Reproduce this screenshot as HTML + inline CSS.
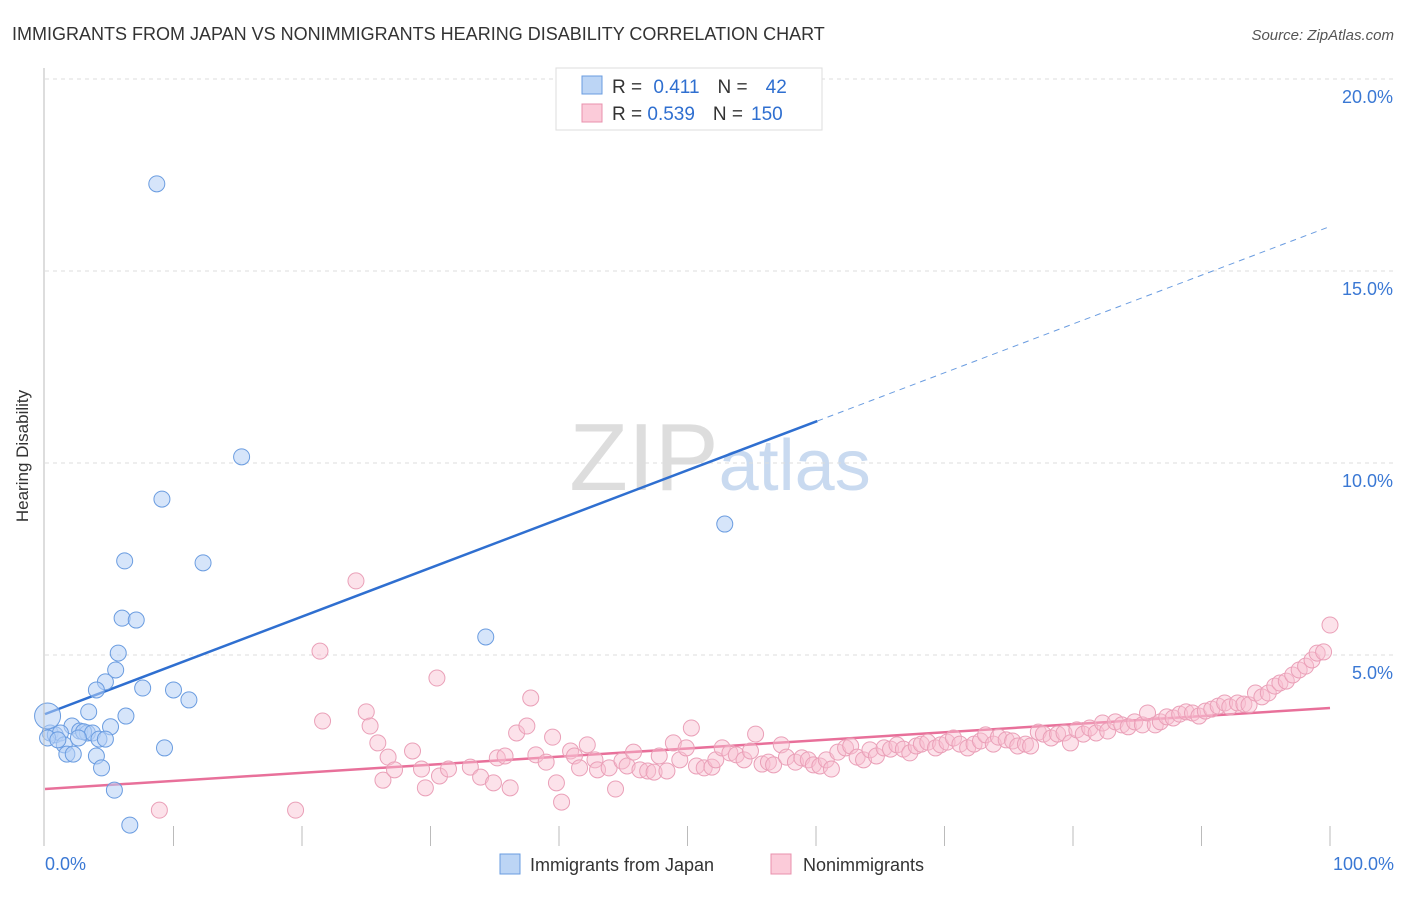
<!DOCTYPE html>
<html><head><meta charset="utf-8"><style>
body{margin:0;background:#fff;font-family:"Liberation Sans",sans-serif;}
svg text{font-family:"Liberation Sans",sans-serif;}
</style></head><body>
<svg id="chart" width="1406" height="892">
<text x="12" y="40" font-size="18" fill="#333">IMMIGRANTS FROM JAPAN VS NONIMMIGRANTS HEARING DISABILITY CORRELATION CHART</text>
<text x="1394" y="40" font-size="15" fill="#555" font-style="italic" text-anchor="end">Source: ZipAtlas.com</text>
<text x="28" y="456" font-size="17" fill="#333" transform="rotate(-90 28 456)" text-anchor="middle">Hearing Disability</text>
<text x="720" y="490" font-size="96" fill="#ddd" text-anchor="middle" font-family="Liberation Serif">ZIP<tspan fill="#c9daf0" font-family="Liberation Sans" font-size="72">atlas</tspan></text>
<g id="grid"></g><g id="lines"></g><g id="pts"></g>
<line x1="44" y1="68" x2="44" y2="846" stroke="#bbb"/>
<text x="45" y="870" font-size="18" fill="#3a78d4">0.0%</text>
<text x="1394" y="870" font-size="18" fill="#3a78d4" text-anchor="end">100.0%</text>
<g>
<rect x="556" y="68" width="266" height="62" fill="#fff" stroke="#ddd"/>
<rect x="582" y="76" width="20" height="18" fill="#bcd5f5" stroke="#6a9ce0"/>
<rect x="582" y="104" width="20" height="18" fill="#fbcbd9" stroke="#e890ad"/>
<text x="612" y="93" font-size="19" fill="#333">R = <tspan fill="#2f6fd0" dx="6">0.411</tspan><tspan dx="18">N =</tspan><tspan fill="#2f6fd0" dx="18">42</tspan></text>
<text x="612" y="120" font-size="19" fill="#333">R = <tspan fill="#2f6fd0">0.539</tspan><tspan dx="18">N =</tspan><tspan fill="#2f6fd0" dx="8">150</tspan></text>
</g>
<g>
<rect x="500" y="854" width="20" height="20" fill="#bcd5f5" stroke="#6a9ce0"/>
<text x="530" y="871" font-size="18" fill="#333">Immigrants from Japan</text>
<rect x="771" y="854" width="20" height="20" fill="#fbcbd9" stroke="#e890ad"/>
<text x="803" y="871" font-size="18" fill="#333">Nonimmigrants</text>
</g>
</svg>
<script>
const yTicks=[5,10,15,20];
const xTicks=[10,20,30,40,50,60,70,80,90,100];
const blueX=[8.7,15.3,9.1,6.2,12.3,6.0,7.1,34.3,52.9,5.7,5.5,4.7,4.0,7.6,10.0,11.2,3.4,6.3,1.9,5.1,2.1,2.7,3.3,3.0,3.7,4.2,4.7,0.4,0.8,1.2,0.2,1.5,1.7,2.2,4.0,9.3,4.4,5.4,6.6,2.6,1.0];
const blueY=[17.27,10.16,9.06,7.45,7.40,5.96,5.91,5.47,8.41,5.05,4.61,4.30,4.09,4.14,4.09,3.83,3.52,3.41,3.36,3.13,3.15,3.02,2.97,3.0,2.97,2.81,2.81,2.97,2.92,2.97,2.84,2.66,2.42,2.42,2.37,2.58,2.06,1.48,0.57,2.84,2.79];
const pinkX=[8.9,19.5,21.4,21.6,24.2,25.0,25.3,25.9,26.3,26.7,27.2,28.6,29.3,29.6,30.5,30.7,31.4,33.1,33.9,34.9,35.2,35.8,36.2,36.7,37.5,37.8,38.2,39.0,39.5,39.8,40.2,40.9,41.2,41.6,42.2,42.8,43.0,43.9,44.4,44.9,45.3,45.8,46.3,46.9,47.4,47.8,48.4,48.9,49.4,49.9,50.3,50.7,51.3,51.9,52.2,52.7,53.3,53.8,54.4,54.9,55.3,55.8,56.3,56.7,57.3,57.7,58.4,58.9,59.4,59.8,60.3,60.8,61.2,61.7,62.3,62.7,63.2,63.7,64.2,64.7,65.3,65.8,66.3,66.8,67.3,67.8,68.2,68.7,69.3,69.7,70.2,70.7,71.2,71.8,72.3,72.8,73.2,73.8,74.2,74.8,75.3,75.7,76.3,76.7,77.3,77.7,78.3,78.8,79.3,79.8,80.3,80.8,81.3,81.8,82.3,82.7,83.3,83.8,84.3,84.8,85.4,85.8,86.4,86.8,87.3,87.8,88.3,88.8,89.3,89.8,90.3,90.8,91.3,91.8,92.2,92.8,93.3,93.7,94.2,94.7,95.2,95.7,96.1,96.6,97.1,97.6,98.1,98.6,99.0,99.5,100];
const pinkY=[0.96,0.96,5.10,3.28,6.93,3.52,3.15,2.71,1.74,2.34,2.01,2.50,2.03,1.54,4.40,1.85,2.03,2.08,1.82,1.67,2.32,2.37,1.54,2.97,3.15,3.88,2.40,2.21,2.86,1.67,1.17,2.50,2.37,2.06,2.66,2.27,2.01,2.06,1.51,2.24,2.11,2.47,2.01,1.98,1.95,2.37,1.98,2.71,2.27,2.58,3.10,2.11,2.06,2.08,2.27,2.58,2.45,2.40,2.27,2.50,2.94,2.16,2.21,2.14,2.66,2.34,2.21,2.32,2.27,2.14,2.11,2.27,2.03,2.47,2.58,2.63,2.34,2.27,2.53,2.37,2.58,2.55,2.66,2.55,2.45,2.63,2.68,2.73,2.58,2.66,2.73,2.84,2.68,2.58,2.68,2.76,2.92,2.68,2.86,2.79,2.76,2.63,2.68,2.63,2.99,2.94,2.84,2.94,2.97,2.71,3.05,2.94,3.10,2.97,3.23,3.02,3.26,3.18,3.13,3.26,3.18,3.49,3.18,3.26,3.39,3.36,3.46,3.52,3.49,3.41,3.54,3.59,3.67,3.75,3.65,3.75,3.72,3.70,4.01,3.91,4.01,4.19,4.27,4.32,4.48,4.61,4.71,4.87,5.05,5.08,5.78];
const blueFit=[3.46,0.127]; const pinkFit=[1.51,0.0211];
const NS='http://www.w3.org/2000/svg';
const sx=v=>45+v*12.85, sy=v=>847-v*38.4;
function mk(t,a,p){const e=document.createElementNS(NS,t);for(const k in a)e.setAttribute(k,a[k]);p.appendChild(e);return e;}
const grid=document.getElementById('grid'),lines=document.getElementById('lines'),pts=document.getElementById('pts');
yTicks.forEach(v=>{const l=mk('line',{x1:45,x2:1395,y1:sy(v),y2:sy(v),stroke:'#ddd','stroke-dasharray':'4,4'},grid);


const t=mk('text',{x:1393,y:sy(v)+24,'font-size':18,fill:'#3a78d4','text-anchor':'end'},grid);t.textContent=v.toFixed(1)+'%';

});
xTicks.forEach(v=>{const l=mk('line',{x1:sx(v),x2:sx(v),y1:826,y2:846,stroke:'#bbb'},grid);

});
function fit(f,x0,x1,col,dash,nm){const l=mk('line',{x1:sx(x0),y1:sy(f[0]+f[1]*x0),x2:sx(x1),y2:sy(f[0]+f[1]*x1),stroke:col,'stroke-width':dash?1:2.5},lines);if(dash)l.setAttribute('stroke-dasharray','6,5');

}
fit(blueFit,0,60.1,'#2f6fd0',false,'japan-trend-line');
fit(blueFit,60.1,100,'#6a9ce0',true,'japan-trend-extension');
fit(pinkFit,0,100,'#e8709a',false,'nonimmigrant-trend-line');
pinkX.forEach((x,i)=>{const c=mk('circle',{cx:sx(x),cy:sy(pinkY[i]),r:8,fill:'rgba(248,190,208,0.45)',stroke:'#eaa0b8','stroke-width':1},pts);

});
blueX.forEach((x,i)=>{const c=mk('circle',{cx:sx(x),cy:sy(blueY[i]),r:i==18?0:8,fill:'rgba(180,208,245,0.55)',stroke:'#6a9ce0','stroke-width':1},pts);

});
const big=mk('circle',{cx:sx(0.2),cy:sy(3.41),r:13,fill:'rgba(180,208,245,0.55)',stroke:'#6a9ce0'},pts);


</script>
</body></html>
